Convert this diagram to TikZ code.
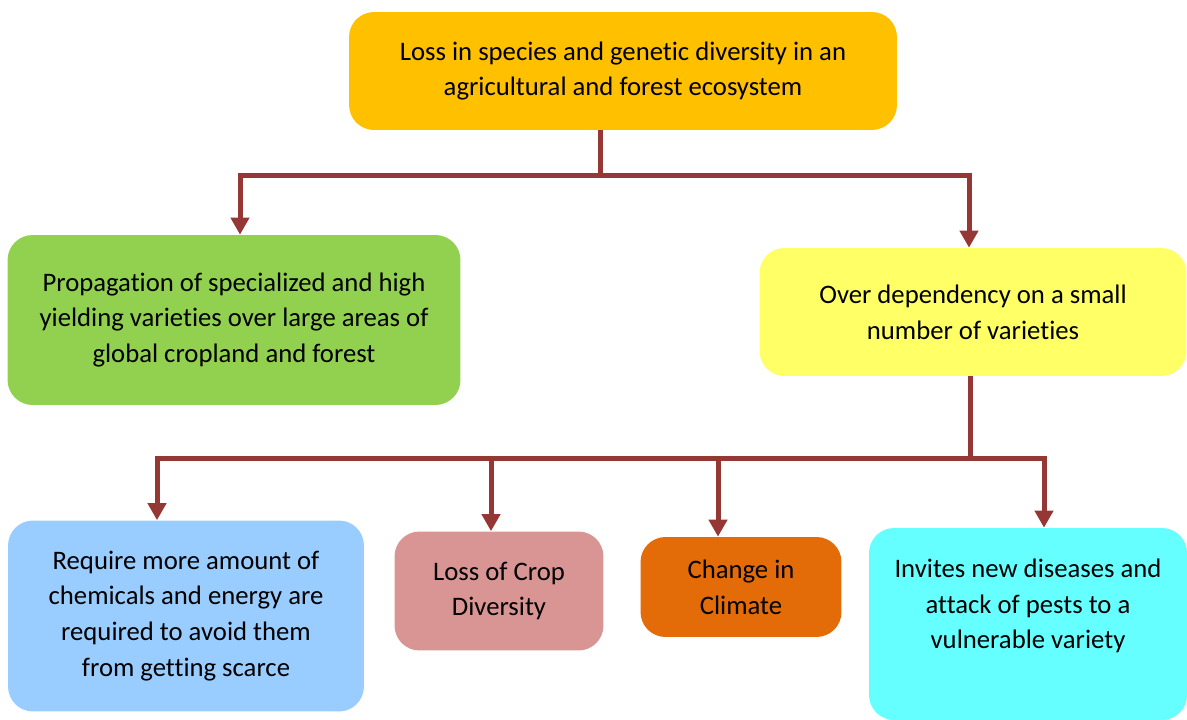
\documentclass[tikz,border=0pt]{standalone}
\usepackage{fontspec}
\setmainfont{Carlito}[Ligatures=NoCommon]
\usetikzlibrary{arrows.meta}

\definecolor{topbox}{HTML}{FFC000}
\definecolor{greenbox}{HTML}{92D050}
\definecolor{yellowbox}{HTML}{FFFF66}
\definecolor{bluebox}{HTML}{99CCFF}
\definecolor{pinkbox}{HTML}{D99594}
\definecolor{orangebox}{HTML}{E36C09}
\definecolor{cyanbox}{HTML}{66FFFF}
\definecolor{linkred}{HTML}{953735}

\begin{document}
\begin{tikzpicture}[x=0.02cm, y=-0.02cm,
    box/.style={rounded corners=0.5cm, align=center, inner sep=0pt,
        font=\fontsize{15.2}{20.4}\selectfont},
    link/.style={draw=linkred, line width=0.1cm},
    arrow/.style={link, -{Triangle[length=0.34cm, width=0.36cm]}}]
\useasboundingbox (0,0) rectangle (1187,720);

    \node [box, fill=topbox, minimum width=10.96cm, minimum height=2.36cm] (loss) at (623,71)
        {Loss in species and genetic diversity in an\\agricultural and forest ecosystem};
    \node [box, fill=greenbox, minimum width=9.06cm, minimum height=3.4cm] (spread) at (234,320)
        {Propagation of specialized and high\\yielding varieties over large areas of\\global cropland and forest};
    \node [box, fill=yellowbox, minimum width=8.54cm, minimum height=2.56cm] (depend) at (973,312)
        {Over dependency on a small\\number of varieties};
    \node [box, fill=bluebox, minimum width=7.12cm, minimum height=3.82cm] (chem) at (186,616)
        {Require more amount of\\chemicals and energy are\\required to avoid them\\from getting scarce};
    \node [box, fill=pinkbox, minimum width=4.18cm, minimum height=2.38cm] (crop) at (499,591)
        {Loss of Crop\\Diversity};
    \node [box, fill=orangebox, minimum width=4.02cm, minimum height=2cm] (climate) at (741,587)
        {Change in\\Climate};
    \node [box, fill=cyanbox, minimum width=6.36cm, minimum height=3.84cm,
        label={[box, yshift=0.36cm]center:Invites new diseases and\\attack of pests to a\\vulnerable variety}] (pests) at (1028,624) {};

    \coordinate (j1) at (600,175);
    \coordinate (j2) at (970,458);

    \draw [link] (loss.south -| j1) -- (j1);
    \draw [arrow] (j1) -| ([xshift=0.12cm]spread.north);
    \draw [arrow] (j1) -| ([xshift=-0.08cm]depend.north);

    \draw [link] (depend.south -| j2) -- (j2);
    \draw [arrow] (j2) -| ([xshift=-0.58cm]chem.north);
    \draw [arrow] (j2) -| ([xshift=-0.16cm]crop.north);
    \draw [arrow] (j2) -| ([xshift=-0.46cm]climate.north);
    \draw [arrow] (j2) -| ([xshift=0.32cm]pests.north);

\end{tikzpicture}
\end{document}
